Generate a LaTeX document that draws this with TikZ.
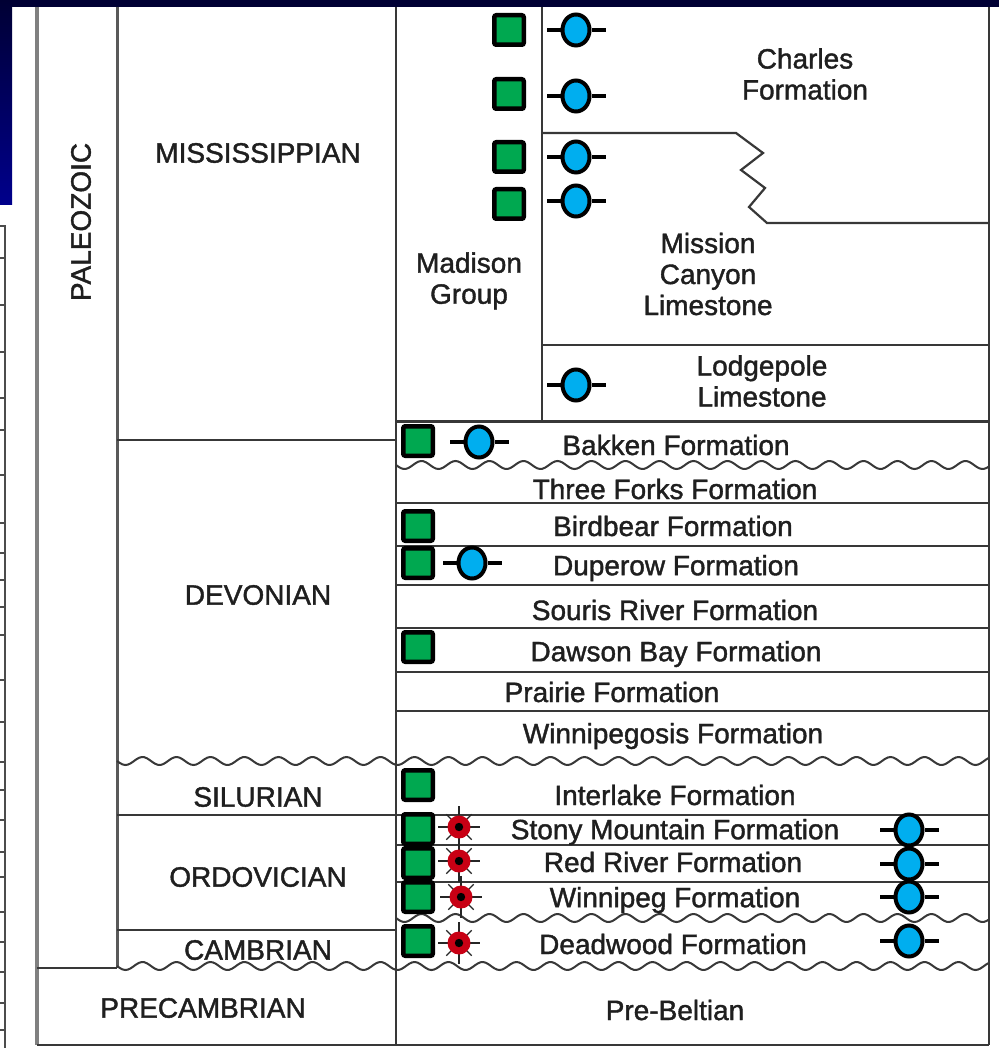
\documentclass[tikz,border=0pt]{standalone}
\usepackage{fontspec}
\setmainfont{Liberation Sans}
\newfontfamily\medfont[BoldFont={Liberation Sans},BoldFeatures={FakeBold=1.4}]{Liberation Sans}
\usetikzlibrary{shapes.geometric}
\definecolor{sqgreen}{RGB}{0,168,80}
\definecolor{oilblue}{RGB}{0,174,239}
\definecolor{gasred}{RGB}{200,0,20}
\definecolor{navy}{RGB}{0,0,52}
\definecolor{navylow}{RGB}{0,0,140}
\begin{document}
\begin{tikzpicture}[x=1pt,y=-1pt,
  lbl/.style={font=\medfont\bfseries\fontsize{28}{31}\selectfont, inner sep=0pt, align=center, text=black!88},
  grid/.style={line width=2.2pt, draw=black!78},
  wavy/.style={line width=2pt, draw=black!78},
  gsq/.style={draw=black, line width=4.5pt, fill=sqgreen, minimum size=29.5pt, inner sep=0pt, rounded corners=2pt},
  oil/.style={ellipse, draw=black, line width=4pt, fill=oilblue, minimum width=27pt, minimum height=31pt, inner sep=0pt},
  oilbar/.style={line width=4pt, draw=black},
  gas/.style={circle, fill=gasred, minimum size=23pt, inner sep=0pt},
  gasray/.style={line width=1.3pt, draw=black!85}
]
\useasboundingbox (0,0) rectangle (999,1048);
\fill[white] (0,0) rectangle (999,1048);
% background decorations
\fill[navy] (0,0) rectangle (999,7);
\shade[top color=navy, bottom color=navylow] (0,0) rectangle (12,205);
\draw[line width=1.5pt, draw=black!70] (0,226) -- (5,226) -- (5,1048);
\foreach \t in {258,305,352,398,430,475,523,553,580,607,635,680,722,762,790,820,852,877,912,942,972,1003,1030}
  \draw[line width=1.2pt, draw=black!70] (0,\t) -- (5,\t);

% main frame
\draw[line width=4.5pt, draw=black!50] (37,7) -- (37,1045);
\draw[line width=3pt, draw=black!65] (117,7) -- (117,968);
\draw[grid] (37,968) -- (117,968);
\draw[grid] (396,7) -- (396,1045);
\draw[grid] (542,7) -- (542,421);
\draw[grid] (989,7) -- (989,1045);
\draw[grid] (37,1045) -- (989,1045);

% period boundaries
\draw[grid] (117,440) -- (396,440);
\draw[grid] (117,815) -- (989,815);
\draw[grid] (117,930) -- (396,930);

% formation boundaries
\draw[grid] (542,133) -- (736,133) -- (763,153) -- (741,170) -- (765,188) -- (749,207) -- (767,223) -- (989,223);
\draw[grid] (542,345) -- (989,345);
\draw[grid, line width=3pt] (396,421) -- (989,421);
\foreach \yy in {503,546,585,628,672,711,845,882}
  \draw[grid] (396,\yy) -- (989,\yy);

% unconformities
\draw[wavy] plot[domain=396:989, samples=240] (\x, {465+4*sin(10.5882*(\x-396))});
\draw[wavy] plot[domain=117:989, samples=320] (\x, {761+4*sin(10.5882*(\x-117))});
\draw[wavy] plot[domain=396:989, samples=240] (\x, {918+4*sin(10.5882*(\x-396))});
\draw[wavy] plot[domain=117:989, samples=320] (\x, {966+4*sin(10.5882*(\x-117))});

% era / period labels
\node[lbl, rotate=90] (paleo) at (81,222) {PALEOZOIC};
\node[lbl] (miss) at (258,153) {MISSISSIPPIAN};
\node[lbl] (dev) at (258,595) {DEVONIAN};
\node[lbl] (sil) at (258,797) {SILURIAN};
\node[lbl] (ord) at (258,877) {ORDOVICIAN};
\node[lbl] (camb) at (258,950) {CAMBRIAN};
\node[lbl] (precamb) at (203,1008) {PRECAMBRIAN};

% formation labels
\node[lbl] (madison) at (469,281) {Madison\\Group};
\node[lbl] (charles) at (805,74) {Charles\\Formation};
\node[lbl] (mission) at (708,274) {Mission\\Canyon\\Limestone};
\node[lbl] (lodge) at (762,381) {Lodgepole\\Limestone};
\node[lbl] (bakken) at (676,445) {Bakken Formation};
\node[lbl] (three) at (675,489) {Three Forks Formation};
\node[lbl] (bird) at (673,526) {Birdbear Formation};
\node[lbl] (dup) at (676,568) {Duperow Formation};
\node[lbl] (souris) at (675,610) {Souris River Formation};
\node[lbl] (dawson) at (676,654) {Dawson Bay Formation};
\node[lbl] (prairie) at (612,692) {Prairie Formation};
\node[lbl] (winnipeg) at (673,736) {Winnipegosis Formation};
\node[lbl] (inter) at (675,795) {Interlake Formation};
\node[lbl] (stony) at (675,832) {Stony Mountain Formation};
\node[lbl] (red) at (673,862) {Red River Formation};
\node[lbl] (winn) at (675,900) {Winnipeg Formation};
\node[lbl] (dead) at (673,944) {Deadwood Formation};
\node[lbl] (pre) at (675,1010) {Pre-Beltian};

% green squares
\foreach \n/\px/\py in {s1/509/30, s2/509/94, s3/509/157, s4/509/204,
  s5/418/441, s6/418/526, s7/418/563, s8/418/647, s9/418/785,
  s10/418/829, s11/418/863, s12/418/897, s13/418/941}
  \node[gsq] (\n) at (\px,\py) {};

% oil symbols
\foreach \n/\px/\py in {o1/576/30, o2/576/96, o3/576/157, o4/576/201, o5/576/385,
  o6/479/442, o7/472/563, o8/909/830, o9/909/864, o10/909/897, o11/909/941}
{
  \node[oil] (\n) at (\px,\py) {};
  \draw[oilbar] (\n.west) -- ++(-14,0);
  \draw[oilbar] (\n.east) -- ++(14,0);
}

% gas symbols
\foreach \n/\px/\py in {g1/459/827, g2/459/861, g3/461/897, g4/459/943}
{
  \foreach \a in {0,90,180,270}
    \draw[gasray] (\px,\py) ++(\a:11) -- ++(\a:10);
  \foreach \a in {45,135,225,315}
    \draw[gasray] (\px,\py) ++(\a:11) -- ++(\a:7);
  \node[gas] (\n) at (\px,\py) {};
  \fill[black] (\n.center) circle (4.2);
}
\end{tikzpicture}
\end{document}
